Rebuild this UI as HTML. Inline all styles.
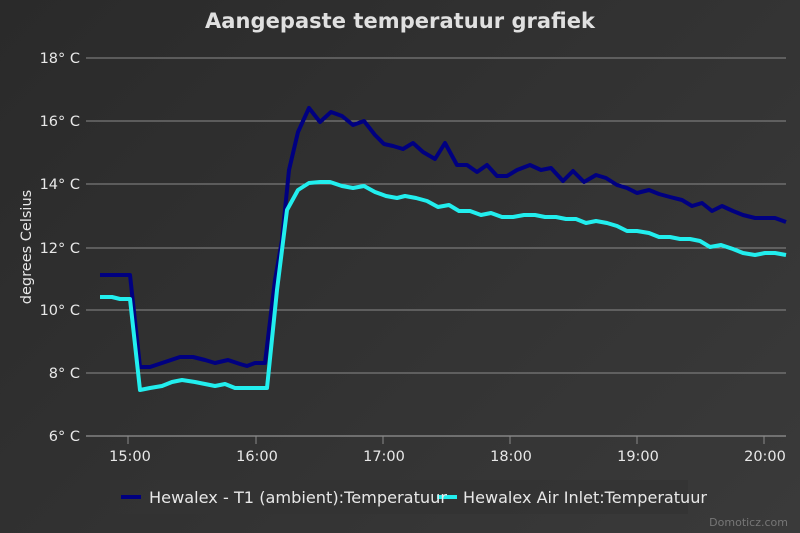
<!DOCTYPE html>
<html><head><style>
html,body{margin:0;padding:0;}
body{width:800px;height:533px;overflow:hidden;background:linear-gradient(135deg,#2a2a2a 0%,#3a3a3a 100%);font-family:"DejaVu Sans","Liberation Sans",sans-serif;}
</style></head><body>
<svg width="800" height="533" xmlns="http://www.w3.org/2000/svg" style="position:absolute;left:0;top:0">
<text x="400" y="28" text-anchor="middle" fill="#e0e0e0" font-size="21" font-weight="bold" textLength="390" font-family="DejaVu Sans, sans-serif">Aangepaste temperatuur grafiek</text>
<g stroke="#8a8a8a" stroke-width="1">
<line x1="86" y1="58" x2="786" y2="58"/>
<line x1="86" y1="121" x2="786" y2="121"/>
<line x1="86" y1="184" x2="786" y2="184"/>
<line x1="86" y1="248" x2="786" y2="248"/>
<line x1="86" y1="310" x2="786" y2="310"/>
<line x1="86" y1="373" x2="786" y2="373"/>
<line x1="86" y1="436" x2="786" y2="436" stroke="#aaa"/>
<line x1="128" y1="436" x2="128" y2="444"/>
<line x1="256" y1="436" x2="256" y2="444"/>
<line x1="383" y1="436" x2="383" y2="444"/>
<line x1="510" y1="436" x2="510" y2="444"/>
<line x1="637" y1="436" x2="637" y2="444"/>
<line x1="764" y1="436" x2="764" y2="444"/>
</g>
<g fill="#e8e8e8" font-size="14.5" text-anchor="end" font-family="DejaVu Sans, sans-serif">
<text x="80" y="63">18° C</text>
<text x="80" y="126">16° C</text>
<text x="80" y="189">14° C</text>
<text x="80" y="253">12° C</text>
<text x="80" y="315">10° C</text>
<text x="80" y="378">8° C</text>
<text x="80" y="441">6° C</text>
</g>
<g fill="#e8e8e8" font-size="14.5" text-anchor="middle" font-family="DejaVu Sans, sans-serif">
<text x="130" y="461">15:00</text>
<text x="257" y="461">16:00</text>
<text x="384" y="461">17:00</text>
<text x="511" y="461">18:00</text>
<text x="638" y="461">19:00</text>
<text x="765" y="461">20:00</text>
</g>
<text transform="translate(31,247) rotate(-90)" fill="#e8e8e8" font-size="14.5" text-anchor="middle" font-family="DejaVu Sans, sans-serif">degrees Celsius</text>
<polyline fill="none" stroke="#000080" stroke-width="4" stroke-linejoin="round" points="100,275 130,275 140,367 150,367 165,362 180,357 193,357 205,360 215,363 228,360 240,364 247,366 255,363 265,363 275,280 282,240 289,170 298,132 309,108 320,122 331,112 342,116 353,125 364,121 375,135 384,144 393,146 403,149 413,143 423,152 435,159 445,143 457,165 467,165 477,172 487,165 497,176 507,176 517,170 530,165 541,170 551,168 563,181 573,171 584,182 596,175 606,178 617,185 627,188 637,193 649,190 659,194 670,197 682,200 692,206 702,203 712,211 722,206 733,211 743,215 755,218 765,218 775,218 786,222"/>
<polyline fill="none" stroke="#22eeee" stroke-width="4" stroke-linejoin="round" points="100,297 112,297 120,299 130,299 140,390 150,388 162,386 172,382 182,380 195,382 205,384 215,386 225,384 235,388 267,388 277,290 287,210 298,190 309,183 320,182 330,182 342,186 353,188 364,186 375,192 386,196 397,198 405,196 416,198 427,201 438,207 449,205 459,211 470,211 481,215 491,213 502,217 513,217 524,215 535,215 545,217 556,217 566,219 576,219 586,223 596,221 607,223 617,226 627,231 637,231 649,233 659,237 670,237 680,239 690,239 700,241 710,247 721,245 733,249 743,253 755,255 765,253 775,253 786,255"/>
<rect x="110" y="480" width="578" height="34" fill="#333" opacity="0.8"/>
<line x1="121" y1="497" x2="141" y2="497" stroke="#000080" stroke-width="4"/>
<line x1="437" y1="497" x2="457" y2="497" stroke="#22eeee" stroke-width="4"/>
<g fill="#e8e8e8" font-size="16" font-family="DejaVu Sans, sans-serif">
<text x="149" y="503" textLength="298" lengthAdjust="spacingAndGlyphs">Hewalex - T1 (ambient):Temperatuur</text>
<text x="463" y="503" textLength="244" lengthAdjust="spacingAndGlyphs">Hewalex Air Inlet:Temperatuur</text>
</g>
<text x="788" y="526" text-anchor="end" fill="#777" font-size="11" font-family="DejaVu Sans, sans-serif">Domoticz.com</text>
</svg>
</body></html>
